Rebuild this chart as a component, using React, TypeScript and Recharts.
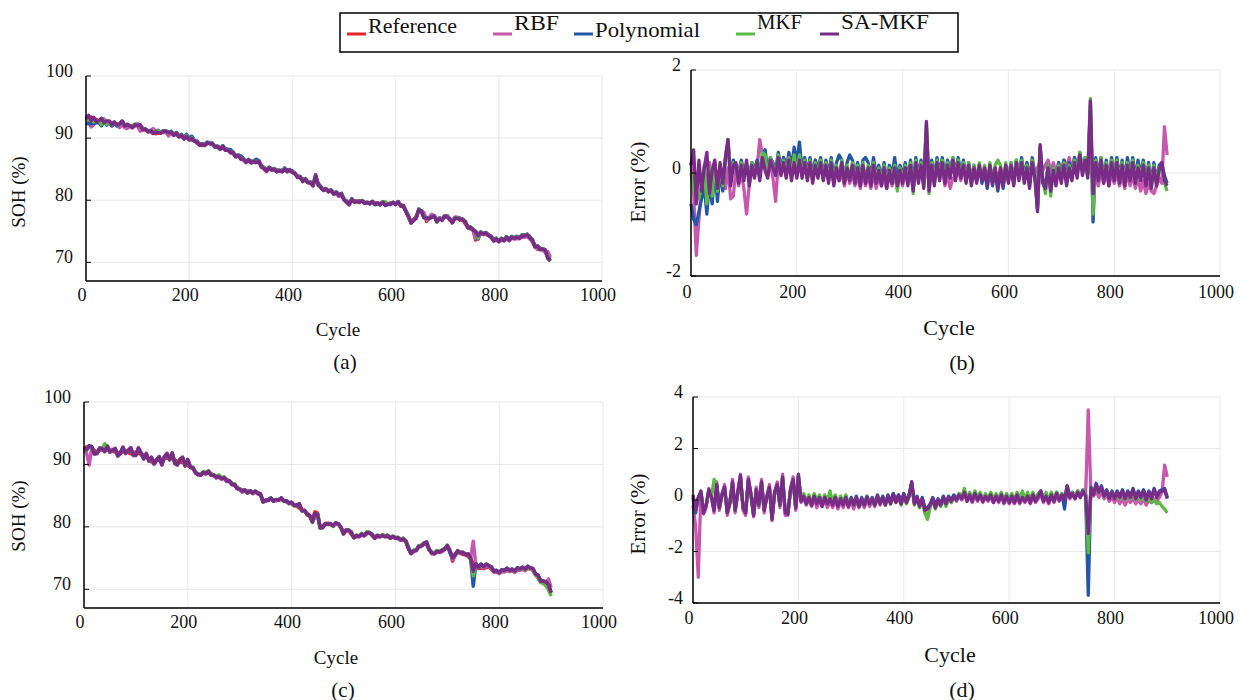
import React from 'react';
import { LineChart, Line, XAxis, YAxis, CartesianGrid } from 'recharts';

const FONT = '"Liberation Serif", "Times New Roman", serif';

const SERIES_NAMES = ['Reference', 'RBF', 'Polynomial', 'MKF', 'SA-MKF'];
const SERIES_KEYS = ['ref', 'rbf', 'poly', 'mkf', 'sa'];
const SERIES_COLORS = ['#e8202a', '#c758ad', '#2455a8', '#5cb946', '#7a2a87'];

const xTicks = [0, 200, 400, 600, 800, 1000];
const sohTicks = [70, 80, 90, 100];
const errTicksB = [-2, 0, 2];
const errTicksD = [-4, -2, 0, 2, 4];

// reference SOH (%), one value every 5 cycles (0..900)
const refA = [
  93.0, 93.2, 93.4, 93.1, 93.0, 92.7, 92.8, 92.9, 92.7, 92.5, 92.5, 92.4, 92.3, 92.0, 92.1, 92.2, 92.0, 91.8, 91.9, 92.0,
  92.2, 91.9, 91.6, 91.3, 91.1, 91.0, 90.9, 90.7, 90.8, 90.9, 90.9, 91.0, 90.9, 90.7, 90.5, 90.6, 90.3, 90.2, 90.0, 90.1,
  89.8, 89.7, 89.6, 89.2, 89.0, 88.8, 89.0, 89.1, 89.2, 88.9, 88.7, 88.5, 88.4, 88.5, 88.3, 88.0, 87.8, 87.5, 87.2, 87.1,
  86.8, 86.5, 86.3, 86.4, 86.3, 86.1, 86.3, 86.2, 85.6, 85.0, 84.9, 85.2, 85.1, 84.9, 84.9, 84.7, 84.8, 84.9, 84.9, 84.8,
  84.7, 84.2, 83.9, 83.6, 83.4, 83.2, 83.0, 82.7, 82.6, 83.1, 82.8, 82.0, 81.8, 81.6, 81.5, 81.4, 81.2, 81.1, 80.9, 80.8,
  80.2, 79.6, 79.4, 80.0, 79.9, 79.7, 79.9, 79.8, 79.7, 79.5, 79.6, 79.7, 79.6, 79.4, 79.5, 79.6, 79.5, 79.3, 79.6, 79.5,
  79.5, 79.6, 79.3, 78.9, 78.3, 77.2, 76.5, 76.7, 77.4, 78.3, 78.3, 77.9, 76.6, 77.2, 77.6, 77.3, 76.9, 77.0, 77.0, 77.3,
  77.5, 76.8, 76.6, 77.0, 77.2, 76.8, 76.9, 76.2, 75.6, 75.4, 75.3, 73.6, 74.7, 74.6, 74.7, 74.5, 74.5, 74.0, 73.7, 73.6,
  73.5, 73.6, 73.7, 73.9, 73.8, 73.9, 74.0, 73.9, 74.1, 74.2, 74.4, 74.3, 74.2, 73.5, 72.8, 72.5, 72.3, 72.1, 71.8, 70.8,
  70.5,
];

const refC = [
  92.5, 92.8, 92.9, 92.5, 92.2, 92.0, 92.2, 92.4, 92.5, 92.3, 92.3, 92.1, 92.0, 91.9, 91.9, 92.0, 92.2, 91.9, 91.7, 91.8,
  92.0, 91.8, 91.6, 91.5, 91.3, 90.8, 90.4, 90.5, 90.6, 90.7, 90.7, 90.9, 91.1, 91.0, 90.9, 90.7, 90.5, 90.4, 90.3, 90.1,
  89.8, 89.6, 89.3, 88.8, 88.3, 88.5, 88.6, 88.7, 88.8, 88.5, 88.2, 88.1, 88.0, 87.9, 87.8, 87.6, 87.3, 87.0, 86.7, 86.4,
  86.0, 85.9, 85.8, 85.7, 85.7, 85.6, 85.6, 85.5, 85.2, 84.2, 84.1, 84.4, 84.5, 84.3, 84.2, 84.4, 84.4, 84.2, 84.0, 83.9,
  83.7, 83.5, 83.3, 83.0, 82.7, 82.5, 82.2, 81.7, 81.2, 82.4, 82.2, 79.8, 80.2, 80.5, 80.6, 80.4, 80.3, 80.5, 80.5, 79.8,
  78.9, 79.3, 79.4, 78.8, 78.3, 78.4, 78.5, 78.6, 78.6, 78.9, 79.1, 78.6, 78.2, 78.4, 78.5, 78.5, 78.5, 78.4, 78.3, 78.3,
  78.3, 78.1, 78.0, 77.9, 77.8, 76.5, 75.8, 76.0, 76.3, 76.7, 77.0, 77.2, 77.2, 76.4, 75.7, 75.8, 75.9, 76.0, 76.0, 76.4,
  76.8, 76.2, 74.5, 75.4, 75.9, 75.8, 75.6, 75.5, 75.3, 74.8, 74.2, 73.6, 73.3, 73.4, 73.3, 73.5, 73.6, 73.2, 72.8, 72.7,
  72.6, 72.8, 72.9, 73.0, 73.0, 72.9, 72.8, 73.0, 73.2, 73.2, 73.1, 73.3, 73.4, 73.0, 72.4, 71.8, 71.2, 71.0, 70.8, 70.3,
  69.4,
];

// estimation errors (%) for the first cell, one value every 5 cycles (0..900)
const errB_rbf = [
  0.2, -0.4, -1.6, -0.9, -0.25, 0.1, -0.35, 0.2, -0.25, 0.1, -0.4, -0.1, 0.0, -0.3, 0.1, -0.5, -0.45, 0.1, -0.25, 0.0,
  -0.3, -0.8, -0.25, 0.05, 0.15, 0.1, 0.65, 0.35, 0.15, 0.1, 0.2, -0.1, -0.55, 0.2, 0.0, 0.3, 0.2, 0.3, 0.05, 0.25,
  0.1, 0.3, 0.05, 0.25, 0.1, 0.2, 0.0, 0.25, -0.05, 0.2, -0.1, 0.15, -0.1, 0.05, -0.2, 0.1, -0.15, 0.0, -0.25, 0.05,
  -0.2, 0.0, -0.25, -0.05, -0.3, 0.0, -0.25, -0.05, -0.3, 0.0, -0.3, -0.05, -0.25, -0.1, -0.3, 0.0, -0.25, -0.05, -0.3, -0.05,
  -0.25, 0.05, -0.2, 0.1, -0.3, 0.15, -0.1, 0.1, -0.2, 0.2, -0.25, 0.15, -0.15, 0.2, -0.1, 0.15, -0.25, -0.05, -0.3, -0.1,
  -0.1, 0.1, -0.15, 0.1, -0.1, 0.05, -0.15, 0.1, -0.1, 0.1, -0.15, 0.05, -0.1, 0.1, -0.05, 0.1, -0.15, 0.1, -0.05, 0.1,
  0.0, 0.15, -0.05, 0.2, 0.0, 0.15, -0.05, 0.2, 0.0, 0.15, 0.0, 0.1, 0.2, 0.05, 0.15, 0.25, 0.05, 0.2, 0.0, 0.2,
  0.05, 0.25, 0.1, 0.3, 0.05, 0.3, 0.15, 0.3, 0.1, 0.2, 0.0, 0.3, -0.1, 0.0, -0.25, 0.05, -0.2, 0.0, -0.25, 0.0,
  -0.2, 0.0, -0.25, -0.05, -0.3, 0.0, -0.25, -0.05, -0.3, -0.1, -0.35, -0.15, -0.4, -0.2, -0.35, -0.4, -0.25, -0.1, -0.2, 0.9,
  0.35,
];

const errB_poly = [
  -0.6, -0.9, -1.0, -0.75, -0.5, -0.25, -0.8, -0.15, -0.6, 0.1, -0.55, 0.05, -0.35, 0.25, 0.6, -0.05, 0.25, 0.1, 0.0, 0.25,
  0.05, 0.15, -0.1, 0.2, 0.05, 0.25, 0.0, 0.35, 0.45, 0.05, 0.3, 0.2, 0.05, 0.4, 0.1, 0.3, 0.0, 0.4, 0.1, 0.5,
  0.2, 0.6, 0.05, 0.3, 0.0, 0.3, -0.05, 0.25, 0.05, 0.3, -0.05, 0.25, -0.05, 0.3, -0.1, 0.2, 0.35, 0.25, -0.1, 0.2,
  0.35, 0.25, -0.05, 0.2, -0.1, 0.25, 0.3, 0.2, -0.1, 0.3, -0.05, 0.15, -0.1, 0.2, -0.15, 0.15, -0.05, 0.3, -0.1, 0.15,
  -0.05, 0.2, -0.1, 0.25, -0.2, 0.3, -0.05, 0.25, -0.15, 0.9, -0.25, 0.25, -0.1, 0.3, 0.0, 0.3, -0.05, 0.25, 0.05, 0.3,
  0.0, 0.3, 0.0, 0.25, -0.1, 0.2, -0.15, 0.15, -0.15, 0.15, -0.2, 0.05, -0.3, 0.1, -0.25, 0.05, -0.35, 0.05, -0.3, 0.1,
  -0.15, 0.2, -0.2, 0.25, -0.05, 0.3, -0.1, 0.2, -0.2, 0.3, 0.0, -0.7, 0.5, -0.1, -0.3, 0.15, -0.3, 0.1, -0.15, 0.2,
  -0.1, 0.25, -0.15, 0.2, -0.05, 0.3, 0.0, 0.4, 0.05, 0.3, 0.0, 1.3, -0.95, 0.3, -0.05, 0.3, -0.1, 0.25, -0.15, 0.3,
  -0.05, 0.3, -0.1, 0.25, -0.15, 0.3, -0.05, 0.3, -0.1, 0.25, -0.05, 0.25, -0.15, 0.2, -0.2, 0.2, -0.15, 0.15, 0.2, -0.05,
  -0.2,
];

const errB_mkf = [
  0.0, -0.3, -0.45, -0.5, -0.25, 0.15, -0.6, 0.1, -0.45, 0.2, -0.35, 0.15, -0.25, 0.3, 0.65, -0.15, 0.2, 0.15, -0.05, 0.2,
  -0.05, 0.2, -0.15, 0.2, -0.05, 0.2, -0.1, 0.4, 0.35, -0.05, 0.3, 0.15, -0.05, 0.35, 0.0, 0.25, -0.05, 0.3, -0.1, 0.35,
  -0.05, 0.35, -0.05, 0.25, -0.1, 0.25, -0.15, 0.2, -0.05, 0.25, -0.1, 0.2, -0.15, 0.25, -0.2, 0.15, -0.1, 0.25, -0.15, 0.15,
  -0.1, 0.2, -0.15, 0.15, -0.2, 0.2, -0.15, 0.15, -0.2, 0.2, -0.15, 0.1, -0.2, 0.15, -0.25, 0.1, -0.15, 0.15, -0.35, 0.1,
  -0.15, 0.15, -0.2, 0.2, -0.4, 0.25, -0.15, 0.2, -0.25, 0.95, -0.4, 0.2, -0.2, 0.25, -0.1, 0.25, -0.15, 0.2, -0.05, 0.3,
  -0.1, 0.25, -0.05, 0.2, -0.15, 0.2, -0.2, 0.15, -0.15, 0.2, -0.1, 0.15, -0.2, 0.2, -0.15, 0.15, 0.25, 0.15, -0.2, 0.2,
  -0.15, 0.2, -0.2, 0.25, -0.1, 0.25, -0.15, 0.15, -0.25, 0.25, -0.05, -0.7, 0.5, -0.15, -0.4, 0.15, -0.45, 0.1, -0.2, 0.15,
  -0.15, 0.2, -0.2, 0.15, -0.1, 0.25, -0.05, 0.4, 0.0, 0.3, -0.05, 1.45, -0.8, 0.25, -0.1, 0.3, -0.15, 0.2, -0.2, 0.25,
  -0.1, 0.25, -0.15, 0.2, -0.2, 0.2, -0.1, 0.25, -0.15, 0.15, -0.1, 0.2, -0.2, 0.15, -0.3, 0.15, -0.2, 0.1, 0.15, -0.2,
  -0.35,
];

const errB_sa = [
  0.15, 0.45, -0.6, 0.25, -0.35, 0.1, 0.4, -0.4, 0.05, 0.25, -0.3, 0.2, -0.2, 0.3, 0.65, -0.25, 0.15, 0.2, -0.2, 0.15,
  -0.15, 0.25, -0.25, 0.15, -0.1, 0.2, -0.15, 0.3, 0.05, -0.1, 0.25, 0.1, -0.05, 0.3, -0.05, 0.2, -0.1, 0.25, -0.15, 0.2,
  -0.1, 0.25, -0.1, 0.2, -0.15, 0.2, -0.2, 0.15, -0.1, 0.2, -0.15, 0.15, -0.2, 0.2, -0.25, 0.1, -0.15, 0.2, -0.2, 0.1,
  -0.15, 0.15, -0.2, 0.1, -0.25, 0.15, -0.2, 0.1, -0.25, 0.15, -0.2, 0.05, -0.25, 0.1, -0.3, 0.05, -0.2, 0.1, -0.25, 0.05,
  -0.2, 0.1, -0.25, 0.15, -0.35, 0.2, -0.2, 0.15, -0.3, 1.0, -0.35, 0.15, -0.25, 0.2, -0.15, 0.2, -0.2, 0.15, -0.1, 0.25,
  -0.15, 0.2, -0.1, 0.15, -0.2, 0.15, -0.25, 0.1, -0.2, 0.15, -0.15, 0.1, -0.25, 0.15, -0.2, 0.1, -0.3, 0.1, -0.25, 0.15,
  -0.2, 0.15, -0.25, 0.2, -0.15, 0.2, -0.2, 0.1, -0.3, 0.2, -0.1, -0.75, 0.55, -0.2, -0.3, 0.1, -0.35, 0.05, -0.25, 0.1,
  -0.2, 0.15, -0.25, 0.1, -0.15, 0.2, -0.1, 0.35, -0.05, 0.25, -0.1, 1.4, -0.4, 0.2, -0.15, 0.25, -0.2, 0.15, -0.25, 0.2,
  -0.15, 0.2, -0.2, 0.15, -0.25, 0.15, -0.15, 0.2, -0.2, 0.1, -0.15, 0.15, -0.25, 0.1, -0.3, 0.1, -0.25, 0.05, 0.2, -0.15,
  -0.25,
];

// estimation errors (%) for the second cell
const errD_rbf = [
  -0.2, -1.0, -3.0, 0.3, -0.55, -0.3, 0.45, 0.15, -0.5, 0.7, -0.4, 0.25, 0.6, -0.6, -0.15, 0.8, -0.5, 0.35, 1.0, -0.4,
  -0.6, 0.9, 0.25, -0.65, 0.5, -0.3, 0.8, -0.5, 0.15, 0.6, -0.8, 0.35, 0.7, -0.3, 1.0, -0.6, -0.6, 0.45, 0.9, -0.4,
  0.9, -0.1, 0.1, -0.2, 0.05, -0.25, 0.05, -0.3, 0.0, -0.25, 0.0, -0.3, -0.05, -0.3, 0.0, -0.35, -0.05, -0.3, 0.0, -0.3,
  -0.05, -0.35, 0.0, -0.3, -0.05, -0.3, 0.0, -0.25, -0.05, -0.25, 0.05, -0.2, 0.1, -0.15, 0.15, -0.1, 0.25, 0.0, 0.2, -0.05,
  0.25, -0.05, 0.2, 0.6, -0.1, 0.1, -0.2, 0.05, -0.5, -0.7, -0.25, 0.0, -0.3, 0.0, -0.2, 0.05, -0.2, 0.05, -0.1, 0.1,
  -0.05, 0.15, 0.0, 0.25, -0.05, 0.15, -0.1, 0.2, -0.05, 0.15, -0.1, 0.1, -0.05, 0.15, -0.1, 0.1, -0.1, 0.15, -0.15, 0.1,
  -0.15, 0.05, -0.15, 0.1, -0.15, 0.05, -0.1, 0.1, -0.15, 0.1, -0.1, 0.05, 0.2, -0.1, 0.1, -0.15, 0.15, -0.1, 0.15, -0.05,
  0.1, -0.05, 0.25, 0.05, 0.2, 0.05, 0.3, 0.1, 0.35, 0.15, 3.5, 0.3, 0.15, 0.35, 0.1, 0.3, 0.05, 0.2, -0.05, 0.1,
  -0.1, 0.1, -0.15, 0.05, -0.2, 0.05, -0.1, 0.1, -0.15, 0.0, -0.15, 0.05, -0.2, 0.0, -0.1, 0.05, -0.05, 0.1, 0.3, 1.35,
  0.9,
];

const errD_poly = [
  0.1, -0.5, 0.05, 0.3, -0.45, -0.2, 0.35, 0.1, -0.35, 0.55, -0.3, 0.2, 0.45, -0.45, -0.1, 0.65, -0.35, 0.25, 0.9, -0.3,
  -0.45, 0.75, 0.2, -0.55, 0.35, -0.2, 0.65, -0.35, 0.1, 0.45, -0.7, 0.3, 0.55, -0.2, 0.85, -0.45, -0.5, 0.35, 0.75, -0.3,
  0.95, 0.0, 0.2, -0.1, 0.15, -0.15, 0.2, -0.1, 0.15, -0.2, 0.15, -0.1, 0.1, -0.15, 0.15, -0.2, 0.1, -0.15, 0.15, -0.2,
  0.1, -0.15, 0.15, -0.2, 0.1, -0.15, 0.15, -0.1, 0.1, -0.15, 0.2, -0.1, 0.15, -0.15, 0.2, -0.1, 0.25, -0.05, 0.2, -0.1,
  0.25, -0.05, 0.2, 0.7, -0.1, 0.15, -0.2, 0.1, -0.3, -0.3, -0.15, 0.1, -0.2, 0.05, -0.15, 0.15, -0.1, 0.15, 0.0, 0.2,
  0.05, 0.25, 0.1, 0.35, 0.0, 0.25, 0.0, 0.3, 0.05, 0.25, 0.0, 0.2, 0.05, 0.25, -0.05, 0.2, 0.0, 0.25, -0.05, 0.2,
  -0.05, 0.2, -0.05, 0.25, -0.05, 0.15, 0.0, 0.2, -0.05, 0.25, 0.0, 0.2, 0.35, 0.0, 0.2, -0.05, 0.25, 0.0, 0.3, 0.05,
  0.25, -0.35, 0.55, 0.15, 0.3, 0.1, 0.35, 0.15, 0.4, 0.2, -3.7, 0.5, 0.25, 0.65, 0.35, 0.55, 0.2, 0.4, 0.1, 0.35,
  0.1, 0.35, 0.15, 0.4, 0.1, 0.35, 0.15, 0.45, 0.1, 0.35, 0.15, 0.4, 0.05, 0.35, 0.1, 0.45, 0.15, 0.35, 0.4, 0.45,
  0.1,
];

const errD_mkf = [
  0.0, -0.4, 0.1, 0.3, -0.45, -0.2, 0.35, 0.1, 0.8, 0.55, -0.3, 0.2, 0.45, -0.45, -0.1, 0.6, -0.4, 0.25, 0.85, -0.3,
  -0.45, 0.7, 0.2, -0.55, 0.35, -0.2, 0.65, -0.35, 0.1, 0.45, -0.7, 0.3, 0.55, -0.2, 0.85, -0.45, -0.5, 0.35, 0.75, -0.3,
  0.9, 0.05, 0.25, -0.05, 0.2, -0.1, 0.25, -0.05, 0.2, -0.1, 0.2, -0.05, 0.35, -0.1, 0.2, -0.15, 0.15, -0.1, 0.2, -0.15,
  0.05, -0.2, 0.1, -0.25, 0.05, -0.2, 0.1, -0.15, 0.05, -0.2, 0.15, -0.15, 0.1, -0.2, 0.1, -0.15, 0.15, -0.1, 0.1, -0.2,
  0.15, -0.15, 0.1, 0.6, -0.2, 0.05, -0.3, 0.0, -0.5, -0.75, -0.25, 0.0, -0.35, -0.05, -0.25, 0.05, -0.25, 0.05, -0.1, 0.1,
  0.0, 0.25, 0.1, 0.45, 0.05, 0.3, 0.05, 0.35, 0.1, 0.3, 0.0, 0.25, 0.05, 0.3, 0.0, 0.25, 0.05, 0.3, 0.0, 0.25,
  0.0, 0.25, 0.0, 0.3, 0.05, 0.35, 0.05, 0.3, 0.0, 0.3, 0.05, 0.25, 0.35, 0.05, 0.3, 0.0, 0.3, 0.05, 0.3, 0.1,
  0.25, 0.05, 0.55, 0.15, 0.3, 0.1, 0.35, 0.15, 0.4, 0.2, -2.05, 0.45, 0.2, 0.55, 0.3, 0.5, 0.15, 0.35, 0.05, 0.3,
  0.05, 0.25, 0.05, 0.3, 0.0, 0.25, 0.05, 0.3, 0.0, 0.2, 0.0, 0.15, -0.05, 0.1, -0.1, 0.0, -0.15, -0.1, -0.25, -0.35,
  -0.5,
];

const errD_sa = [
  0.2, -0.4, 0.1, 0.35, -0.5, -0.2, 0.4, 0.1, -0.4, 0.6, -0.3, 0.2, 0.5, -0.5, -0.1, 0.7, -0.4, 0.3, 0.95, -0.3,
  -0.5, 0.8, 0.2, -0.6, 0.4, -0.2, 0.7, -0.4, 0.1, 0.5, -0.75, 0.3, 0.6, -0.2, 0.9, -0.5, -0.55, 0.4, 0.8, -0.3,
  1.0, -0.05, 0.15, -0.15, 0.1, -0.2, 0.15, -0.15, 0.1, -0.25, 0.1, -0.15, 0.05, -0.2, 0.1, -0.25, 0.05, -0.2, 0.1, -0.25,
  0.05, -0.2, 0.1, -0.25, 0.05, -0.2, 0.1, -0.15, 0.05, -0.2, 0.15, -0.15, 0.1, -0.2, 0.15, -0.15, 0.2, -0.1, 0.15, -0.15,
  0.2, -0.1, 0.15, 0.7, -0.15, 0.1, -0.25, 0.05, -0.4, -0.35, -0.2, 0.05, -0.3, 0.0, -0.2, 0.1, -0.15, 0.1, -0.05, 0.15,
  0.0, 0.2, 0.05, 0.3, -0.05, 0.2, -0.05, 0.25, 0.0, 0.2, -0.05, 0.15, 0.0, 0.2, -0.1, 0.15, -0.05, 0.2, -0.1, 0.15,
  -0.1, 0.15, -0.1, 0.2, -0.1, 0.1, -0.05, 0.15, -0.1, 0.2, -0.05, 0.15, 0.35, -0.05, 0.15, -0.1, 0.2, -0.05, 0.25, 0.0,
  0.2, 0.0, 0.55, 0.1, 0.25, 0.05, 0.3, 0.1, 0.35, 0.15, -1.3, 0.45, 0.2, 0.6, 0.3, 0.5, 0.15, 0.35, 0.05, 0.3,
  0.05, 0.3, 0.1, 0.35, 0.05, 0.3, 0.1, 0.4, 0.05, 0.3, 0.1, 0.35, 0.0, 0.3, 0.05, 0.4, 0.1, 0.3, 0.35, 0.4,
  0.05,
];

const r2 = (v: number) => Math.round(v * 100) / 100;

function errRows(rbf: number[], poly: number[], mkf: number[], sa: number[]) {
  return sa.map((_, i) => ({ cycle: i * 5, rbf: rbf[i], poly: poly[i], mkf: mkf[i], sa: sa[i] }));
}

// estimated SOH = reference + estimation error
function sohRows(ref: number[], rbf: number[], poly: number[], mkf: number[], sa: number[]) {
  return ref.map((r, i) => ({
    cycle: i * 5,
    ref: r,
    rbf: r2(r + rbf[i]),
    poly: r2(r + poly[i]),
    mkf: r2(r + mkf[i]),
    sa: r2(r + sa[i]),
  }));
}

const dataA = sohRows(refA, errB_rbf, errB_poly, errB_mkf, errB_sa);
const dataB = errRows(errB_rbf, errB_poly, errB_mkf, errB_sa);
const dataC = sohRows(refC, errD_rbf, errD_poly, errD_mkf, errD_sa);
const dataD = errRows(errD_rbf, errD_poly, errD_mkf, errD_sa);

function XTick(props: any) {
  const { x, y, payload, dy } = props;
  return (
    <text x={x - 4} y={y + dy} textAnchor="middle" dominantBaseline="central"
      fontFamily={FONT} fontSize={18} fill="#111" style={{ fontFamily: FONT }}>
      {payload.value}
    </text>
  );
}

function YTick(props: any) {
  const { x, y, payload, gap } = props;
  return (
    <text x={x - gap} y={y - 5} textAnchor="end" dominantBaseline="central"
      fontFamily={FONT} fontSize={18} fill="#111" style={{ fontFamily: FONT }}>
      {payload.value}
    </text>
  );
}

interface PanelProps {
  left: number;
  top: number;
  width: number;
  height: number;
  margin: { top: number; right: number; bottom: number; left: number };
  yAxisWidth: number;
  data: any[];
  domain: [number, number];
  yTicks: number[];
  keys: string[];
  labelGap: number;
  xLabelDy: number;
  lineWidth: number;
}

function Panel({ left, top, width, height, margin, yAxisWidth, data, domain, yTicks, keys, labelGap, xLabelDy, lineWidth }: PanelProps) {
  return (
    <div style={{ position: 'absolute', left, top }}>
      <LineChart width={width} height={height} data={data} margin={margin}>
        <CartesianGrid stroke="#e8e8e8" strokeWidth={1} />
        <XAxis
          dataKey="cycle"
          type="number"
          domain={[0, 1000]}
          ticks={xTicks}
          interval={0}
          height={40}
          tickSize={0}
          tickMargin={0}
          tickLine={false}
          axisLine={{ stroke: '#000', strokeWidth: 1.5 }}
          tick={(p: any) => <XTick {...p} dy={xLabelDy} />}
        />
        <XAxis
          xAxisId="top"
          orientation="top"
          type="number"
          domain={[0, 1000]}
          ticks={xTicks}
          height={0}
          tick={false}
          tickLine={false}
          axisLine={{ stroke: '#000', strokeWidth: 1.5 }}
        />
        <YAxis
          type="number"
          domain={domain}
          ticks={yTicks}
          interval={0}
          width={yAxisWidth}
          tickSize={-5}
          tickMargin={5}
          tickLine={{ stroke: '#000', strokeWidth: 1 }}
          axisLine={{ stroke: '#000', strokeWidth: 1.5 }}
          tick={(p: any) => <YTick {...p} gap={labelGap} />}
        />
        <YAxis
          yAxisId="right"
          orientation="right"
          type="number"
          domain={domain}
          ticks={yTicks}
          interval={0}
          width={0}
          tickSize={-5}
          tick={false}
          tickLine={{ stroke: '#444', strokeWidth: 1 }}
          axisLine={{ stroke: '#666', strokeWidth: 2 }}
        />
        {keys.map((k) => {
          const idx = SERIES_KEYS.indexOf(k);
          return (
            <Line
              key={k}
              dataKey={k}
              name={SERIES_NAMES[idx]}
              type="linear"
              stroke={SERIES_COLORS[idx]}
              strokeWidth={lineWidth}
              strokeLinejoin="round"
              dot={false}
              activeDot={false}
              isAnimationActive={false}
            />
          );
        })}
      </LineChart>
    </div>
  );
}

function Caption({ x, y, size, rotate, children }: { x: number; y: number; size: number; rotate?: boolean; children: React.ReactNode }) {
  return (
    <div
      style={{
        position: 'absolute',
        left: x,
        top: y,
        transform: `translate(-50%, -50%)${rotate ? ' rotate(-90deg)' : ''}`,
        fontFamily: FONT,
        fontSize: size,
        lineHeight: 1,
        whiteSpace: 'nowrap',
        color: '#111',
      }}
    >
      {children}
    </div>
  );
}

// legend sample start, text baseline and text width for each series
const legendItems = [
  { x: 347, base: 33, w: 89 },
  { x: 493, base: 30, w: 45 },
  { x: 574, base: 37, w: 105 },
  { x: 736, base: 29, w: 45 },
  { x: 820, base: 29, w: 88 },
];

function SharedLegend() {
  return (
    <svg width={1241} height={60} style={{ position: 'absolute', left: 0, top: 0 }}>
      <rect x={340} y={13} width={618} height={39} fill="#fff" stroke="#000" strokeWidth={1.5} />
      {legendItems.map((it, i) => (
        <g key={SERIES_NAMES[i]}>
          <line x1={it.x} x2={it.x + 19} y1={34} y2={34} stroke={SERIES_COLORS[i]} strokeWidth={3} />
          <text x={it.x + 21} y={it.base} fontFamily={FONT} fontSize={21} fill="#111"
            textLength={it.w} lengthAdjust="spacingAndGlyphs">
            {SERIES_NAMES[i]}
          </text>
        </g>
      ))}
    </svg>
  );
}

export default function App() {
  const sohKeys = ['ref', 'rbf', 'poly', 'mkf', 'sa'];
  const errKeys = ['rbf', 'poly', 'mkf', 'sa'];
  return (
    <div style={{ position: 'absolute', left: 0, top: 0, width: 1241, height: 700, background: '#fff' }}>
      <SharedLegend />

      <Panel left={0} top={60} width={620} height={300}
        margin={{ top: 16, right: 18, bottom: 39, left: 0 }} yAxisWidth={86}
        data={dataA} domain={[67, 100]} yTicks={sohTicks} keys={sohKeys} labelGap={13} xLabelDy={14} lineWidth={3.5} />
      <Panel left={620} top={55} width={621} height={320}
        margin={{ top: 15, right: 21, bottom: 59, left: 0 }} yAxisWidth={71}
        data={dataB} domain={[-2, 2]} yTicks={errTicksB} keys={errKeys} labelGap={10} xLabelDy={16} lineWidth={3.3} />
      <Panel left={0} top={385} width={620} height={300}
        margin={{ top: 17, right: 17, bottom: 37, left: 0 }} yAxisWidth={84}
        data={dataC} domain={[67, 100]} yTicks={sohTicks} keys={sohKeys} labelGap={13} xLabelDy={14} lineWidth={3.5} />
      <Panel left={620} top={380} width={621} height={300}
        margin={{ top: 17, right: 21, bottom: 37, left: 0 }} yAxisWidth={73}
        data={dataD} domain={[-4, 4]} yTicks={errTicksD} keys={errKeys} labelGap={10} xLabelDy={15} lineWidth={3.3} />

      <Caption x={18} y={192} size={19} rotate>SOH (%)</Caption>
      <Caption x={638} y={182} size={21} rotate>Error (%)</Caption>
      <Caption x={18} y={516} size={19} rotate>SOH (%)</Caption>
      <Caption x={638} y={514} size={21} rotate>Error (%)</Caption>

      <Caption x={338} y={329} size={19}>Cycle</Caption>
      <Caption x={345} y={362} size={21}>(a)</Caption>
      <Caption x={949} y={328} size={22}>Cycle</Caption>
      <Caption x={962} y={363} size={22}>(b)</Caption>
      <Caption x={336} y={657} size={19}>Cycle</Caption>
      <Caption x={343} y={690} size={21}>(c)</Caption>
      <Caption x={950} y={655} size={22}>Cycle</Caption>
      <Caption x={962} y={690} size={22}>(d)</Caption>
    </div>
  );
}
